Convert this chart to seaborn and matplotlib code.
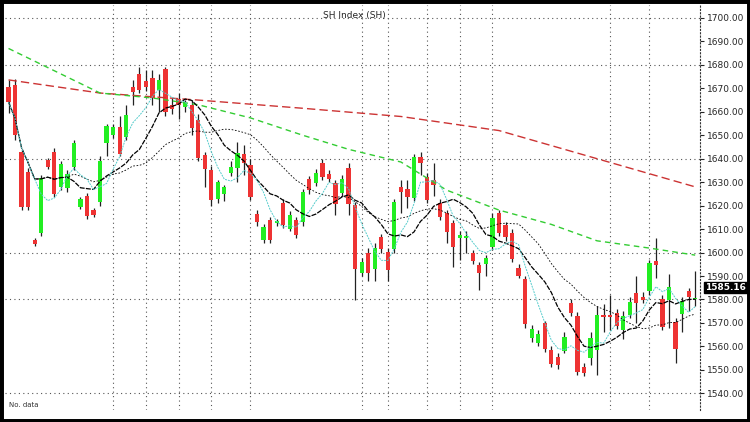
import matplotlib
matplotlib.use("Agg")
import matplotlib.pyplot as plt
import seaborn as sns
import numpy as np
import pandas as pd

sns.set_style("white")
plt.rcParams['font.family'] = ['DejaVu Sans']

opens = [1670.6,1671.4,1642.9,1634.3,1605.3,1608.3,1639.4,1642.9,1627.9,1627.5,1636.5,1619.4,1624.1,1618.1,1621.5,1646.7,1650.1,1653.5,1649.3,1670.6,
         1676.1,1673.1,1674.4,1669.3,1678.3,1662.9,1665.5,1662.1,1662.9,1656.5,1641.6,1635.2,1622.8,1624.9,1633.9,1636.0,1642.0,1637.3,1616.4,1605.3,
         1613.9,1612.6,1621.1,1610.0,1613.9,1613.0,1631.3,1629.6,1638.2,1633.5,1629.6,1625.4,1636.0,1620.2,1591.2,1599.8,1593.0,1606.6,1600.2,1601.5,
         1627.9,1627.1,1623.2,1640.7,1632.2,1630.9,1621.1,1616.8,1612.6,1606.1,1606.1,1599.8,1594.7,1595.1,1602.3,1616.8,1611.7,1608.3,1593.4,1588.7,
         1563.5,1561.4,1569.9,1558.4,1555.4,1558.0,1578.4,1572.9,1551.1,1555.0,1558.4,1573.3,1573.3,1574.2,1566.9,1573.3,1582.7,1581.0,1583.5,1596.4,
         1580.1,1579.7,1570.3,1573.8,1583.5,1580.0]
closes = [1664.2,1650.1,1619.4,1619.4,1603.6,1631.8,1636.5,1624.9,1637.7,1633.5,1646.7,1622.8,1615.6,1616.0,1639.0,1653.9,1653.5,1642.0,1658.6,1668.4,
          1669.3,1670.6,1665.9,1673.6,1660.0,1661.2,1662.9,1663.8,1653.1,1640.3,1635.6,1622.4,1630.1,1627.9,1636.5,1642.4,1638.2,1623.7,1613.0,1610.9,
          1605.3,1613.4,1611.7,1616.0,1607.4,1625.8,1626.6,1633.9,1632.2,1631.3,1620.7,1631.3,1620.7,1593.0,1595.9,1591.2,1601.9,1601.5,1592.5,1621.5,
          1625.8,1623.7,1640.7,1638.2,1622.4,1628.8,1615.1,1608.7,1602.3,1607.4,1607.0,1596.4,1591.2,1597.6,1614.7,1608.3,1606.6,1597.2,1590.0,1569.5,
          1567.3,1565.2,1558.8,1552.4,1552.0,1563.9,1574.2,1549.0,1548.6,1563.5,1573.3,1572.5,1572.5,1568.6,1572.9,1578.9,1578.4,1579.7,1595.5,1594.7,
          1568.2,1585.3,1558.8,1579.3,1581.0,1580.3]
highs = [1673.6,1674.0,1644.0,1636.0,1606.0,1633.0,1640.5,1644.5,1639.0,1635.0,1648.0,1623.5,1625.5,1619.0,1641.0,1655.0,1655.0,1658.0,1663.0,1673.6,
         1679.0,1678.0,1678.0,1676.0,1679.0,1666.0,1668.0,1665.0,1665.0,1659.0,1643.0,1637.0,1631.0,1629.0,1639.0,1647.0,1646.0,1640.0,1618.0,1612.0,
         1615.0,1614.5,1623.0,1617.5,1615.0,1627.0,1632.5,1635.5,1640.0,1635.0,1631.0,1633.0,1638.0,1621.5,1597.5,1602.0,1604.0,1608.0,1602.0,1623.0,
         1631.0,1631.0,1642.0,1643.0,1634.0,1638.0,1623.0,1618.0,1614.0,1609.0,1609.0,1601.0,1596.0,1599.0,1617.0,1618.0,1613.0,1610.0,1595.0,1590.0,
         1569.0,1567.0,1571.0,1560.0,1557.0,1566.0,1580.0,1574.5,1553.0,1566.0,1577.0,1578.0,1582.0,1576.0,1575.0,1581.0,1590.0,1583.0,1597.0,1606.0,
         1582.0,1591.0,1572.0,1581.0,1585.0,1592.0]
lows = [1659.5,1648.0,1618.0,1618.0,1603.0,1607.0,1635.5,1623.5,1626.5,1626.0,1635.0,1618.5,1614.5,1615.0,1620.0,1641.0,1649.0,1641.0,1648.0,1662.9,
        1668.0,1669.0,1663.0,1660.0,1658.0,1659.0,1657.0,1660.0,1650.0,1639.0,1628.0,1620.0,1621.0,1622.0,1632.5,1630.0,1633.0,1622.5,1611.5,1604.0,
        1604.0,1611.5,1610.5,1609.0,1606.0,1611.5,1625.0,1628.5,1631.0,1630.0,1616.0,1624.0,1616.0,1579.7,1590.0,1588.0,1588.0,1600.0,1588.0,1600.0,
        1617.0,1619.0,1622.0,1633.0,1621.0,1624.0,1614.0,1604.0,1594.0,1597.0,1600.0,1595.0,1584.0,1590.0,1601.0,1607.0,1605.0,1596.0,1589.0,1568.0,
        1562.0,1560.0,1557.5,1551.0,1550.5,1557.0,1573.0,1548.0,1547.5,1552.0,1548.0,1566.0,1567.0,1567.5,1563.0,1572.0,1570.0,1578.5,1582.0,1589.0,
        1567.0,1568.0,1553.0,1566.0,1575.0,1577.0]

ma30_idx = [0, 14, 22, 29, 37, 45, 52, 60, 67, 75, 83, 90, 98, 105]
ma30_val = [1687.0, 1668.0, 1665.9, 1663.0, 1657.4, 1650.0, 1644.0, 1638.6, 1626.6, 1618.1, 1612.0, 1605.0, 1601.9, 1598.9]
ma60_idx = [0, 14, 29, 45, 60, 75, 90, 105]
ma60_val = [1673.6, 1668.0, 1665.0, 1661.5, 1658.0, 1652.0, 1640.0, 1628.0]

ytick_vals = [1540, 1550, 1560, 1570, 1580, 1590, 1600, 1610, 1620, 1630, 1640, 1650, 1660, 1670, 1680, 1690, 1700]
hgrid_vals = [1540, 1580, 1600, 1640, 1680, 1700]
vgrid_idx = [16, 21, 26, 31, 37, 54, 58, 64, 69, 74, 92, 98]
last_price = 1585.16

df = pd.DataFrame({"i": np.arange(len(opens)), "open": opens, "close": closes, "high": highs, "low": lows})
df["ma5"] = df["close"].rolling(5, min_periods=1).mean()
df["ma10"] = df["close"].rolling(10, min_periods=1).mean()
df["ma20"] = df["close"].rolling(20, min_periods=1).mean()

fig = plt.figure(figsize=(7.5, 4.22), dpi=100)
ax = fig.add_axes([0.007, 0.028, 0.926, 0.96])

for y in hgrid_vals:
    ax.axhline(y, color="#555555", ls=(0, (1, 3)), lw=0.8, zorder=0)
for x in vgrid_idx:
    ax.axvline(x, color="#555555", ls=(0, (1, 3)), lw=0.8, zorder=0)

up = df["close"] >= df["open"]
cols = np.where(up, "#22ee22", "#ee3333")
ax.vlines(df["i"], df["low"], df["high"], color="#222222", lw=0.9, zorder=2)
bottoms = np.minimum(df["open"], df["close"])
heights = np.maximum(np.abs(df["close"] - df["open"]), 0.5)
ax.bar(df["i"], heights, bottom=bottoms, width=0.65, color=cols, zorder=3, linewidth=0)

sns.lineplot(x=ma60_idx, y=ma60_val, ax=ax, color="#cc3333", lw=1.0, zorder=4).lines[-1].set_linestyle((0, (6, 3)))
sns.lineplot(x=ma30_idx, y=ma30_val, ax=ax, color="#33cc33", lw=1.0, zorder=4).lines[-1].set_linestyle((0, (4, 3)))
sns.lineplot(data=df, x="i", y="ma20", ax=ax, color="black", lw=0.6, zorder=4).lines[-1].set_linestyle((0, (2, 2)))
sns.lineplot(data=df, x="i", y="ma10", ax=ax, color="black", lw=0.9, zorder=4).lines[-1].set_linestyle((0, (4, 1)))
sns.lineplot(data=df, x="i", y="ma5", ax=ax, color="#55cccc", lw=0.7, zorder=4).lines[-1].set_linestyle((0, (2, 1)))

ax.set_xlim(-0.5, 105.7)
ax.set_ylim(1532.8, 1705.5)
ax.set_xticks([])
ax.yaxis.tick_right()
ax.set_yticks(ytick_vals)
ax.set_yticklabels([f"{v:.2f}" for v in ytick_vals], fontsize=6.5)
ax.tick_params(axis="y", length=3, pad=2)
ax.set_xlabel(""); ax.set_ylabel("")
for s in ["top", "left", "bottom"]:
    ax.spines[s].set_visible(False)
ax.spines["right"].set_linestyle((0, (1, 2)))
ax.spines["right"].set_color("#333333")

ax.text(0.503, 0.985, "SH Index (SH)", transform=ax.transAxes, ha="center", va="top", fontsize=6.5)
ax.text(0.005, 0.005, "No. data", transform=ax.transAxes, ha="left", va="bottom", fontsize=5, color="#333333")
ax.annotate(f"{last_price:.2f}", xy=(1.0, last_price), xycoords=("axes fraction", "data"),
            xytext=(4, 0), textcoords="offset points", ha="left", va="center", fontsize=6.5, color="white",
            fontweight="bold", bbox=dict(boxstyle="square,pad=0.1", fc="black", ec="black"))

fig.patches.append(plt.Rectangle((0, 0), 1, 1, transform=fig.transFigure, fill=False, ec="black", lw=5))
fig.savefig("out.png", dpi=100)
